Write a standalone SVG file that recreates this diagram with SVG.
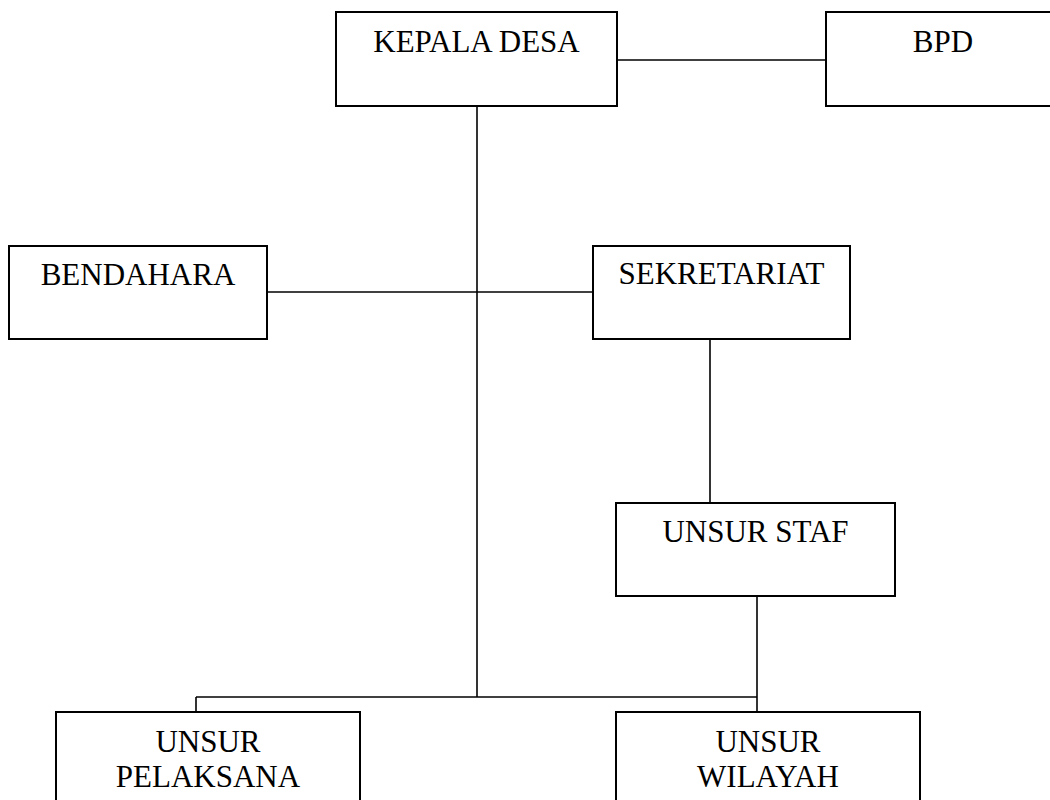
<svg xmlns="http://www.w3.org/2000/svg" width="1050" height="800" viewBox="0 0 1050 800">
<style>
.box{fill:#fff;stroke:#000;stroke-width:2}
.ln{stroke:#000;stroke-width:1.6;fill:none}
.t{font-family:"Liberation Serif","Times New Roman",serif;font-size:31px;fill:#000;text-anchor:middle}
</style>
<rect width="1050" height="800" fill="#fff"/>
<g id="connectors">
<line class="ln" x1="617" y1="60" x2="826" y2="60"/>
<line class="ln" x1="477" y1="106" x2="477" y2="697"/>
<line class="ln" x1="267" y1="292" x2="593" y2="292"/>
<line class="ln" x1="710" y1="339" x2="710" y2="503"/>
<line class="ln" x1="757" y1="596" x2="757" y2="712"/>
<line class="ln" x1="196" y1="697" x2="757" y2="697"/>
<line class="ln" x1="196" y1="697" x2="196" y2="712"/>
</g>
<g id="kepala-desa">
<rect class="box" x="336" y="12" width="281" height="94"/>
<text class="t" x="476.5" y="52">KEPALA DESA</text>
</g>
<g id="bpd">
<rect class="box" x="826" y="12" width="240" height="94"/>
<text class="t" x="943" y="52">BPD</text>
</g>
<g id="bendahara">
<rect class="box" x="9" y="246" width="258" height="93"/>
<text class="t" x="138" y="285">BENDAHARA</text>
</g>
<g id="sekretariat">
<rect class="box" x="593" y="246" width="257" height="93"/>
<text class="t" x="721.5" y="284">SEKRETARIAT</text>
</g>
<g id="unsur-staf">
<rect class="box" x="616" y="503" width="279" height="93"/>
<text class="t" x="755.5" y="542">UNSUR STAF</text>
</g>
<g id="unsur-pelaksana">
<rect class="box" x="56" y="712" width="304" height="120"/>
<text class="t" x="208" y="752">UNSUR</text>
<text class="t" x="208" y="787">PELAKSANA</text>
</g>
<g id="unsur-wilayah">
<rect class="box" x="616" y="712" width="304" height="120"/>
<text class="t" x="768" y="752">UNSUR</text>
<text class="t" x="768" y="787">WILAYAH</text>
</g>
</svg>
